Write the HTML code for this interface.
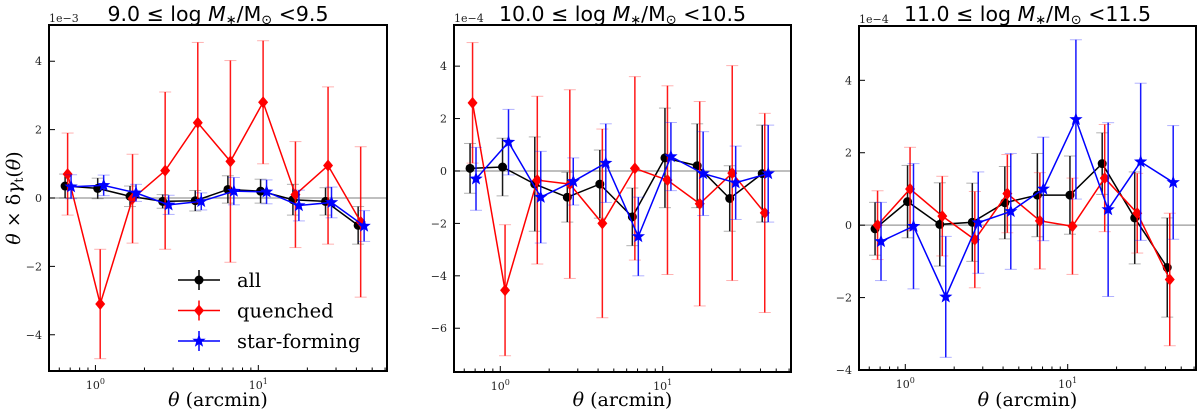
<!DOCTYPE html>
<html><head><meta charset="utf-8"><style>
body{margin:0;background:#fff;width:1200px;height:413px;overflow:hidden}
svg{display:block}
text{font-family:"DejaVu Serif","Liberation Serif",serif}
.tk{font-family:"DejaVu Serif","Liberation Serif",serif;font-size:11px;fill:#222}
.ttl{font-family:"DejaVu Sans","Liberation Sans",sans-serif}
</style></head><body>
<svg id="chart" width="1200" height="413" xmlns="http://www.w3.org/2000/svg"></svg>
<script>
const thetaBase=[0.675,1.07,1.69,2.68,4.25,6.74,10.7,16.9,26.8,42.5];
const p1All=[0.35,0.28,0.05,-0.1,-0.08,0.25,0.2,-0.05,-0.1,-0.8];
const p1AllErr=[0.35,0.3,0.3,0.2,0.3,0.4,0.35,0.45,0.4,0.55];
const p1Q=[0.7,-3.1,-0.02,0.8,2.2,1.07,2.8,0.1,0.95,-0.7];
const p1QErr=[1.2,1.6,1.3,2.3,2.35,2.95,1.8,1.55,2.3,2.2];
const p1SF=[0.33,0.37,0.15,-0.2,-0.1,0.2,0.18,-0.22,-0.13,-0.82];
const p1SFErr=[0.35,0.3,0.25,0.28,0.25,0.4,0.35,0.45,0.45,0.45];
const p2All=[0.1,0.15,-0.5,-1.0,-0.5,-1.75,0.5,0.2,-1.05,-0.1];
const p2AllErr=[0.95,1.1,1.8,0.95,1.3,1.1,1.9,1.6,1.25,1.85];
const p2Q=[2.6,-4.55,-0.35,-0.5,-2.0,0.1,-0.35,-1.25,-0.08,-1.6];
const p2QErr=[2.3,2.5,3.2,3.6,3.6,3.5,3.6,3.9,4.1,3.8];
const p2SF=[-0.3,1.1,-1.0,-0.4,0.3,-2.5,0.55,-0.1,-0.45,-0.1];
const p2SFErr=[1.2,1.25,1.75,0.9,1.5,1.5,1.3,1.6,1.4,1.85];
const p3All=[-0.1,0.65,0.02,0.08,0.62,0.83,0.83,1.7,0.2,-1.17];
const p3AllErr=[0.73,1.0,1.15,1.08,1.0,1.15,1.08,0.85,1.27,1.37];
const p3Q=[0.0,1.0,0.25,-0.4,0.87,0.12,-0.03,1.3,0.33,-1.5];
const p3QErr=[0.95,1.15,1.1,1.33,1.08,1.33,1.33,1.48,1.1,1.83];
const p3SF=[-0.45,-0.03,-1.98,0.07,0.38,1.0,2.92,0.43,1.75,1.18];
const p3SFErr=[1.08,1.73,1.67,1.4,1.6,1.43,2.2,2.4,2.17,1.57];
const yTicks1=[-4,-2,0,2,4];
const yTicks2=[-6,-4,-2,0,2,4];
const yTicks3=[-4,-2,0,2,4];
const titles=["9.0","10.0","11.0"], titlesHi=["9.5","10.5","11.5"];
const panels=[
 {L:49,R:387,T:25,B:371,ymin:-5.06,ymax:5.06,ticks:yTicks1,exp:"1e\u22123",d:[p1All,p1AllErr,p1Q,p1QErr,p1SF,p1SFErr]},
 {L:454,R:791,T:25,B:372,ymin:-7.67,ymax:5.57,ticks:yTicks2,exp:"1e\u22124",d:[p2All,p2AllErr,p2Q,p2QErr,p2SF,p2SFErr]},
 {L:859,R:1196,T:26,B:370,ymin:-4,ymax:5.5,ticks:yTicks3,exp:"1e\u22124",d:[p3All,p3AllErr,p3Q,p3QErr,p3SF,p3SFErr]}
];
const lxMin=-0.285,lxMax=1.79;
const svg=document.getElementById('chart');
const NS="http://www.w3.org/2000/svg";
function mk(tag,attrs,parent,txt){const e=document.createElementNS(NS,tag);for(const k in attrs)e.setAttribute(k,attrs[k]);if(txt!==undefined)e.textContent=txt;(parent||svg).appendChild(e);return e;}
const series=[{c:"#000",f:0.965,m:"circle",n:"all"},{c:"#f00",f:1.0,m:"diamond",n:"quenched"},{c:"#00f",f:1.05,m:"star",n:"star-forming"}];
function marker(g,m,x,y,c){
 if(m==="circle")return mk("circle",{cx:x,cy:y,r:4.5,fill:c},g);
 if(m==="diamond")return mk("polygon",{points:`${x},${y-6} ${x+5},${y} ${x},${y+6} ${x-5},${y}`,fill:c},g);
 let p=[];for(let i=0;i<10;i++){const r=i%2?2.9:7,a=-Math.PI/2+i*Math.PI/5;p.push((x+r*Math.cos(a)).toFixed(1)+","+(y+r*Math.sin(a)).toFixed(1));}
 return mk("polygon",{points:p.join(" "),fill:c},g);
}
panels.forEach((P,pi)=>{
 const g=mk("g",{});
 
 
 const X=v=>P.L+(Math.log10(v)-lxMin)/(lxMax-lxMin)*(P.R-P.L);
 const Y=v=>P.B-(v-P.ymin)/(P.ymax-P.ymin)*(P.B-P.T);
 const zl=mk("line",{x1:P.L,x2:P.R,y1:Y(0),y2:Y(0),stroke:"#999","stroke-width":1.2},g);
 
 series.forEach((s,si)=>{
  const vals=P.d[si*2],errs=P.d[si*2+1];
  const sg=mk("g",{},g);
  
  
  const pts=thetaBase.map((t,i)=>[X(t*s.f),Y(vals[i])]);
  thetaBase.forEach((t,i)=>{
   const x=pts[i][0],y1=Y(vals[i]+errs[i]),y2=Y(vals[i]-errs[i]);
   mk("line",{x1:x,x2:x,y1:y1,y2:y2,stroke:s.c,"stroke-width":1.5,opacity:0.9},sg);
   mk("line",{x1:x-6,x2:x+6,y1:y1,y2:y1,stroke:s.c,"stroke-width":1,opacity:0.3},sg);
   mk("line",{x1:x-6,x2:x+6,y1:y2,y2:y2,stroke:s.c,"stroke-width":1,opacity:0.3},sg);
  });
  mk("polyline",{points:pts.map(p=>p.join(",")).join(" "),fill:"none",stroke:s.c,"stroke-width":1.5},sg);
  pts.forEach(p=>{const m=marker(sg,s.m,p[0],p[1],s.c);});
 });
 const fr=mk("rect",{x:P.L,y:P.T,width:P.R-P.L,height:P.B-P.T,fill:"none",stroke:"#000","stroke-width":2},g);
 
 P.ticks.forEach(t=>{const y=Y(t);mk("line",{x1:P.L,x2:P.L+6,y1:y,y2:y,stroke:"#000","stroke-width":1},g);
  const tl=mk("text",{x:P.L-7,y:y+4,"text-anchor":"end",class:"tk"},g,(t<0?"\u2212":"")+Math.abs(t));
  });
 const ex=mk("text",{x:P.L,y:P.T-3,class:"tk","font-size":"10"},g,P.exp);
 
 for(let dec=-1;dec<=1;dec++)for(let k=1;k<10;k++){const v=k*Math.pow(10,dec),lv=Math.log10(v);if(lv<lxMin||lv>lxMax)continue;
  const x=X(v);mk("line",{x1:x,x2:x,y1:P.B,y2:P.B-(k===1?6:3.5),stroke:"#000","stroke-width":1},g);
  if(k===1){const tl=mk("text",{x:x,y:P.B+18,"text-anchor":"middle",class:"tk"},g);
   
   mk("tspan",{},tl,"10");mk("tspan",{dy:-5,"font-size":"8"},tl,String(dec));}}
 const xl=mk("text",{x:(P.L+P.R)/2,y:406,"text-anchor":"middle","font-size":"19"},g);
 
 mk("tspan",{"font-style":"italic"},xl,"θ");mk("tspan",{},xl," (arcmin)");
 const tt=mk("text",{x:(P.L+P.R)/2,y:21,"text-anchor":"middle","font-size":"20.5",class:"ttl"},g);
 
 mk("tspan",{},tt,titles[pi]+" \u2264 log ");mk("tspan",{"font-style":"italic"},tt,"M");mk("tspan",{"font-size":"13",dy:3},tt,"\u2217");
 mk("tspan",{dy:-3},tt,"/M");mk("tspan",{"font-size":"13",dy:3},tt,"\u2299");mk("tspan",{dy:-3},tt," <"+titlesHi[pi]);
});
const yl=mk("text",{x:0,y:0,"text-anchor":"middle","font-size":"19",transform:"translate(20,198) rotate(-90)"});

mk("tspan",{"font-style":"italic"},yl,"θ");mk("tspan",{},yl," × δ");mk("tspan",{"font-style":"italic"},yl,"γ");
mk("tspan",{"font-size":"12",dy:3},yl,"t");mk("tspan",{dy:-3},yl,"(");mk("tspan",{"font-style":"italic"},yl,"θ");mk("tspan",{},yl,")");
const lg=mk("g",{});

series.forEach((s,i)=>{const y=280+i*30.5;const e=mk("g",{},lg);
 
 mk("line",{x1:178,x2:220,y1:y,y2:y,stroke:s.c,"stroke-width":1.5},e);
 mk("line",{x1:199,x2:199,y1:y-10,y2:y+10,stroke:s.c,"stroke-width":1.5},e);
 marker(e,s.m,199,y,s.c);
 mk("text",{x:237,y:y+7,"font-size":"19.5",fill:"#000"},e,s.n);});
</script>
</body></html>
